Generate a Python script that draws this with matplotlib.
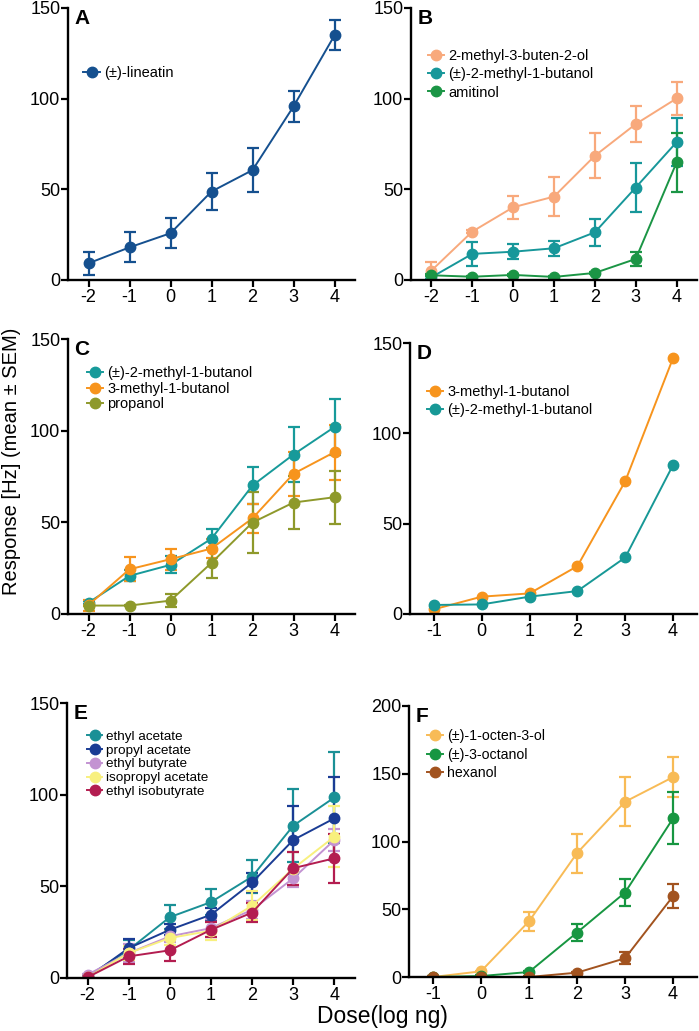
"""Dose-response curves (panels A-F) for single-sensillum recordings."""

import matplotlib.pyplot as plt

plt.rcParams["font.family"] = ["Liberation Sans", "DejaVu Sans"]
plt.rcParams["axes.unicode_minus"] = False

# ---- panel A
a_dose = [-2, -1, 0, 1, 2, 3, 4]
a_lineatin = [9.2, 18.0, 25.8, 48.8, 60.6, 95.7, 134.9]
a_lineatin_sem = [6.2, 8.3, 8.4, 10.0, 12.0, 8.3, 8.3]

# ---- panel B
b_dose = [-2, -1, 0, 1, 2, 3, 4]
b_buten = [5.2, 26.7, 40.1, 46.0, 68.5, 86.0, 100.1]
b_buten_sem = [4.6, 1.0, 6.3, 10.7, 12.5, 9.8, 9.2]
b_mebutanol = [1.5, 14.4, 15.6, 17.5, 26.3, 51.0, 76.0]
b_mebutanol_sem = [1.0, 6.8, 4.0, 4.2, 7.4, 13.6, 13.3]
b_amitinol = [2.6, 1.8, 2.8, 1.7, 3.9, 11.6, 64.8]
b_amitinol_sem = [0.5, 0.5, 0.5, 0.5, 0.5, 4.0, 16.3]

# ---- panel C
c_dose = [-2, -1, 0, 1, 2, 3, 4]
c_mebutanol = [6.2, 20.8, 26.8, 41.1, 70.1, 87.0, 102.0]
c_mebutanol_sem = [1.0, 3.0, 4.6, 5.1, 10.0, 15.0, 15.3]
c_3mebutanol = [4.9, 24.4, 29.9, 35.7, 52.2, 76.5, 88.3]
c_3mebutanol_sem = [3.0, 6.5, 5.8, 5.0, 7.9, 12.0, 15.0]
c_propanol = [4.6, 4.6, 7.3, 27.9, 49.9, 60.8, 63.7]
c_propanol_sem = [0.5, 0.5, 3.6, 8.0, 16.4, 14.6, 14.4]

# ---- panel D (no error bars)
d_dose = [-1, 0, 1, 2, 3, 4]
d_3mebutanol = [2.6, 9.6, 11.4, 26.5, 73.5, 141.7]
d_mebutanol = [5.0, 5.3, 9.6, 12.7, 31.3, 82.5]

# ---- panel E
e_dose = [-2, -1, 0, 1, 2, 3, 4]
e_ethyl_acetate = [0.9, 15.4, 33.2, 41.4, 55.3, 83.1, 98.5]
e_ethyl_acetate_sem = [0.5, 5.4, 6.7, 7.3, 9.1, 19.8, 24.7]
e_propyl_acetate = [0.2, 16.3, 26.3, 34.5, 52.1, 75.3, 87.1]
e_propyl_acetate_sem = [0.5, 4.9, 3.0, 3.6, 5.0, 18.5, 22.5]
e_ethyl_butyrate = [1.8, 13.6, 22.7, 27.2, 37.2, 54.4, 75.3]
e_ethyl_butyrate_sem = [0.5, 5.0, 3.0, 5.0, 5.0, 5.0, 6.0]
e_isopropyl_acetate = [0.4, 13.6, 21.8, 25.8, 39.4, 59.7, 77.1]
e_isopropyl_acetate_sem = [0.5, 4.0, 4.0, 5.0, 8.0, 9.0, 16.7]
e_ethyl_isobutyrate = [0.4, 11.8, 15.1, 26.3, 35.7, 59.9, 65.3]
e_ethyl_isobutyrate_sem = [0.5, 4.0, 6.0, 4.0, 5.0, 9.0, 13.5]

# ---- panel F
f_dose = [-1, 0, 1, 2, 3, 4]
f_octenol = [0.0, 4.2, 41.1, 91.4, 129.3, 147.5]
f_octenol_sem = [0.5, 0.5, 6.9, 14.3, 18.2, 15.0]
f_octanol = [0.0, 0.7, 3.7, 32.8, 62.3, 117.0]
f_octanol_sem = [0.5, 0.5, 0.5, 6.1, 9.9, 19.2]
f_hexanol = [0.0, 0.0, 0.0, 3.2, 13.8, 59.6]
f_hexanol_sem = [0.5, 0.5, 0.5, 0.5, 4.4, 8.9]


def px_rect(left, top, right, bottom):
    """Axes rectangle from pixel edges of the 699x1031 canvas."""
    return [left / 699, 1 - bottom / 1031, (right - left) / 699, (bottom - top) / 1031]


def draw_panel(ax, letter, dose, series, xlim, ylim, yticks, legend_xy, legend_size, spacing):
    handles, labels = [], []
    for label, mean, sem, color in series:
        if sem is None:
            (line,) = ax.plot(dose, mean, "-o", color=color, ms=7.5, lw=1.4)
        else:
            cont = ax.errorbar(dose, mean, yerr=sem, fmt="-o", color=color, ms=7.5, lw=1.4,
                               elinewidth=1.6, capsize=4.5, capthick=1.6)
            line = cont.lines[0]
        handles.append(line)
        labels.append(label)

    ax.set_xlim(*xlim)
    ax.set_ylim(*ylim)
    ax.set_xticks(dose)
    ax.set_yticks(yticks)
    for side in ("top", "right"):
        ax.spines[side].set_visible(False)
    for side in ("left", "bottom"):
        ax.spines[side].set_linewidth(1.7)
    ax.tick_params(width=1.6, length=5, labelsize=13)
    ax.tick_params(axis="y", pad=0.5)
    ax.tick_params(axis="x", pad=1.5)
    ax.text(0.022, 0.995, letter, transform=ax.transAxes, ha="left", va="top",
            fontsize=15, fontweight="bold")
    ax.legend(handles, labels, loc="upper left", bbox_to_anchor=legend_xy, frameon=False,
              fontsize=legend_size, borderpad=0, borderaxespad=0, handlelength=1.1,
              handletextpad=0.3, labelspacing=spacing)


fig = plt.figure(figsize=(6.99, 10.31), dpi=100)

ax_a = fig.add_axes(px_rect(68, 8, 355, 280))
draw_panel(ax_a, "A", a_dose,
           [("(±)-lineatin", a_lineatin, a_lineatin_sem, "#15508f")],
           (-2.5, 4.5), (0, 150), [0, 50, 100, 150], (0.054, 0.785), 10.5, 0.3)

ax_b = fig.add_axes(px_rect(411, 8, 697, 280))
draw_panel(ax_b, "B", b_dose,
           [("2-methyl-3-buten-2-ol", b_buten, b_buten_sem, "#f8a97c"),
            ("(±)-2-methyl-1-butanol", b_mebutanol, b_mebutanol_sem, "#17979a"),
            ("amitinol", b_amitinol, b_amitinol_sem, "#1b9545")],
           (-2.5, 4.5), (0, 150), [0, 50, 100, 150], (0.059, 0.85), 10.5, 0.3)

ax_c = fig.add_axes(px_rect(68, 339, 355, 614))
draw_panel(ax_c, "C", c_dose,
           [("(±)-2-methyl-1-butanol", c_mebutanol, c_mebutanol_sem, "#179a9a"),
            ("3-methyl-1-butanol", c_3mebutanol, c_3mebutanol_sem, "#f7941d"),
            ("propanol", c_propanol, c_propanol_sem, "#8e992b")],
           (-2.5, 4.5), (0, 150), [0, 50, 100, 150], (0.065, 0.90), 10.5, 0.1)

ax_d = fig.add_axes(px_rect(410, 343, 697, 614))
draw_panel(ax_d, "D", d_dose,
           [("3-methyl-1-butanol", d_3mebutanol, None, "#f7941d"),
            ("(±)-2-methyl-1-butanol", d_mebutanol, None, "#179896")],
           (-1.5, 4.5), (0, 150), [0, 50, 100, 150], (0.059, 0.845), 10.5, 0.3)

ax_e = fig.add_axes(px_rect(67, 703, 355, 978))
draw_panel(ax_e, "E", e_dose,
           [("ethyl acetate", e_ethyl_acetate, e_ethyl_acetate_sem, "#1a9096"),
            ("propyl acetate", e_propyl_acetate, e_propyl_acetate_sem, "#1a3c94"),
            ("ethyl butyrate", e_ethyl_butyrate, e_ethyl_butyrate_sem, "#c393d2"),
            ("isopropyl acetate", e_isopropyl_acetate, e_isopropyl_acetate_sem, "#f8f07e"),
            ("ethyl isobutyrate", e_ethyl_isobutyrate, e_ethyl_isobutyrate_sem, "#b31d50")],
           (-2.5, 4.5), (0, 150), [0, 50, 100, 150], (0.071, 0.90), 9.7, 0.1)

ax_f = fig.add_axes(px_rect(409, 706, 697, 977))
draw_panel(ax_f, "F", f_dose,
           [("(±)-1-octen-3-ol", f_octenol, f_octenol_sem, "#f8bb56"),
            ("(±)-3-octanol", f_octanol, f_octanol_sem, "#179641"),
            ("hexanol", f_hexanol, f_hexanol_sem, "#a2531f")],
           (-1.5, 4.5), (0, 200), [0, 50, 100, 150, 200], (0.0625, 0.914), 10.2, 0.3)

fig.text(12 / 699, 1 - 461 / 1031, "Response [Hz] (mean ± SEM)", rotation=90,
         ha="center", va="center", fontsize=14.5)
fig.text(382 / 699, 1 - 1016 / 1031, "Dose(log ng)", ha="center", va="center", fontsize=16.5)

fig.savefig("out.png", dpi=100)
